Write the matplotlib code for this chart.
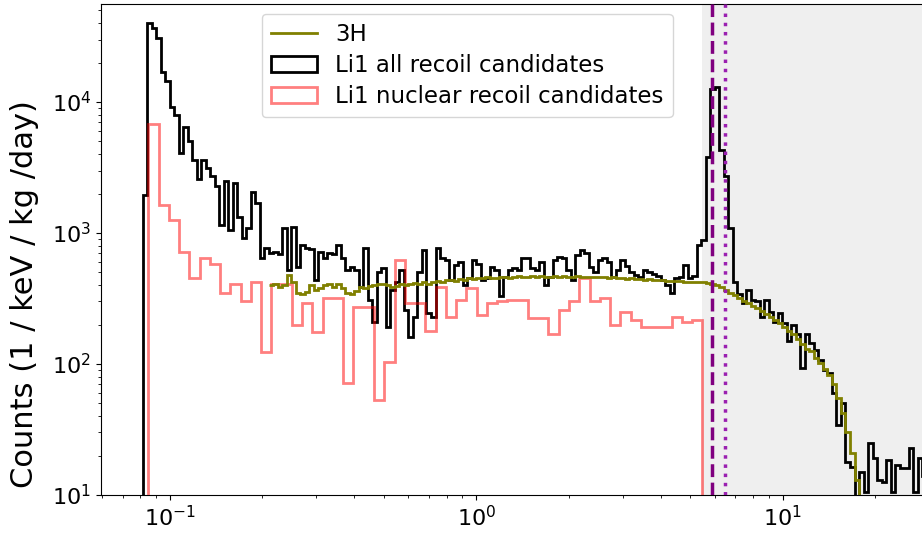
import numpy as np
import matplotlib
matplotlib.use("Agg")
import matplotlib.pyplot as plt

# log-spaced bins (keV)
black_lo, black_hi, black_nbins = 0.0814, 29.5, 174
red_lo, red_hi = 0.0849, 5.47
tritium_first_bin = 28

li1_all = [1950, 40000, 37000, 31000, 17000, 14500, 9100, 7900, 4100, 6400,
           5000, 3600, 2600, 3600, 3150, 2700, 2300, 1150, 2500, 1050,
           2400, 1330, 910, 1100, 2040, 1700, 650, 770, 700, 720,
           690, 1090, 520, 1110, 550, 810, 770, 760, 440, 720,
           650, 700, 690, 810, 650, 520, 550, 520, 390, 770,
           310, 210, 500, 540, 190, 365, 420, 520, 260, 160,
           230, 500, 740, 245, 230, 770, 640, 620, 440, 570,
           600, 400, 450, 620, 580, 440, 450, 550, 520, 330,
           460, 520, 540, 520, 650, 640, 540, 520, 600, 400,
           460, 620, 660, 640, 520, 440, 680, 740, 700, 550,
           500, 620, 640, 600, 460, 520, 620, 560, 500, 480,
           460, 520, 500, 490, 470, 440, 400, 350, 450, 460,
           570, 450, 470, 810, 880, 3800, 12500, 13000, 4300, 2700,
           1100, 420, 345, 290, 365, 310, 300, 230, 310, 250,
           210, 245, 205, 150, 200, 170, 93, 170, 145, 128,
           107, 90, 85, 60, 34, 50, 18, 16.4, 8, 15,
           10.5, 25, 19, 13, 12.5, 18.5, 10.5, 17, 16, 16,
           23, 10.5, 19, 14]

li1_nuclear = [6800, 1630, 1250, 720, 450, 650, 580, 350, 410, 300,
               420, 123, 410, 410, 200, 290, 175, 320, 320, 72,
               270, 270, 53, 104, 620, 290, 290, 180, 390, 230,
               310, 380, 235, 290, 300, 310, 310, 225, 225, 170,
               260, 300, 450, 300, 320, 200, 250, 215, 190, 190,
               190, 230, 210, 215]

tritium = [400, 410, 390, 400, 480, 420, 350, 345, 355, 400,
           370, 380, 400, 410, 390, 410, 380, 350, 345, 360,
           390, 380, 395, 400, 410, 405, 400, 390, 395, 405,
           400, 410, 415, 405, 420, 410, 425, 430, 420, 435,
           440, 430, 445, 440,
           450, 445, 455, 450, 460, 455, 450, 460, 465, 455,
           460, 470, 465, 460, 470, 465, 470, 460, 465, 470,
           465, 470, 460, 465, 470, 465, 460,
           460, 462, 458, 460, 455, 460, 452, 450, 448, 450,
           445, 442, 440, 442, 438, 440, 435, 432, 430, 428,
           430, 425, 422, 420, 420,
           420, 415, 410, 400, 385, 365, 350, 335, 320, 305,
           290, 278, 268, 255, 240, 228, 217, 205, 193, 180,
           168, 155, 143, 130, 125, 112, 102, 92, 82, 70,
           55, 42, 30, 21, 13, 9, 7]

nr_region_start = 5.47
line_dashed = 5.9
line_dotted = 6.49

black_edges = np.logspace(np.log10(black_lo), np.log10(black_hi), black_nbins + 1)
red_edges = np.logspace(np.log10(red_lo), np.log10(red_hi), len(li1_nuclear) + 1)
tr_edges = black_edges[tritium_first_bin:tritium_first_bin + len(tritium) + 1]

fig = plt.figure(figsize=(9.22, 5.33), dpi=100)
ax = fig.add_axes([0.1095, 0.0713, 0.8905, 0.9212])
ax.set_xscale('log')
ax.set_yscale('log')

ax.axvspan(nr_region_start, 100, color='#efefef', zorder=0, lw=0)

ax.stairs(tritium, tr_edges, baseline=None, color='olive', lw=2, label='3H', zorder=4)
ax.hist(black_edges[:-1], bins=black_edges, weights=li1_all, histtype='step',
        color='black', lw=2, label='Li1 all recoil candidates', zorder=3)
ax.hist(red_edges[:-1], bins=red_edges, weights=li1_nuclear, histtype='step',
        color='red', alpha=0.5, lw=2, label='Li1 nuclear recoil candidates', zorder=3)

ax.axvline(line_dashed, color='purple', ls='--', lw=2.5, zorder=5)
ax.axvline(line_dotted, color='#9a1fb0', ls=':', lw=2.5, zorder=5)

ax.set_xlim(0.0595, 28.5)
ax.set_ylim(10, 56000)
ax.spines['right'].set_visible(False)
ax.tick_params(labelsize=16)
ax.set_ylabel('Counts (1 / keV / kg /day)', fontsize=22)
ax.yaxis.set_label_coords(-0.075, 0.41)

ax.legend(loc='upper left', bbox_to_anchor=(0.196, 0.98), borderaxespad=0,
          fontsize=16.5, labelspacing=0.35)

fig.savefig('out.png', dpi=100)
